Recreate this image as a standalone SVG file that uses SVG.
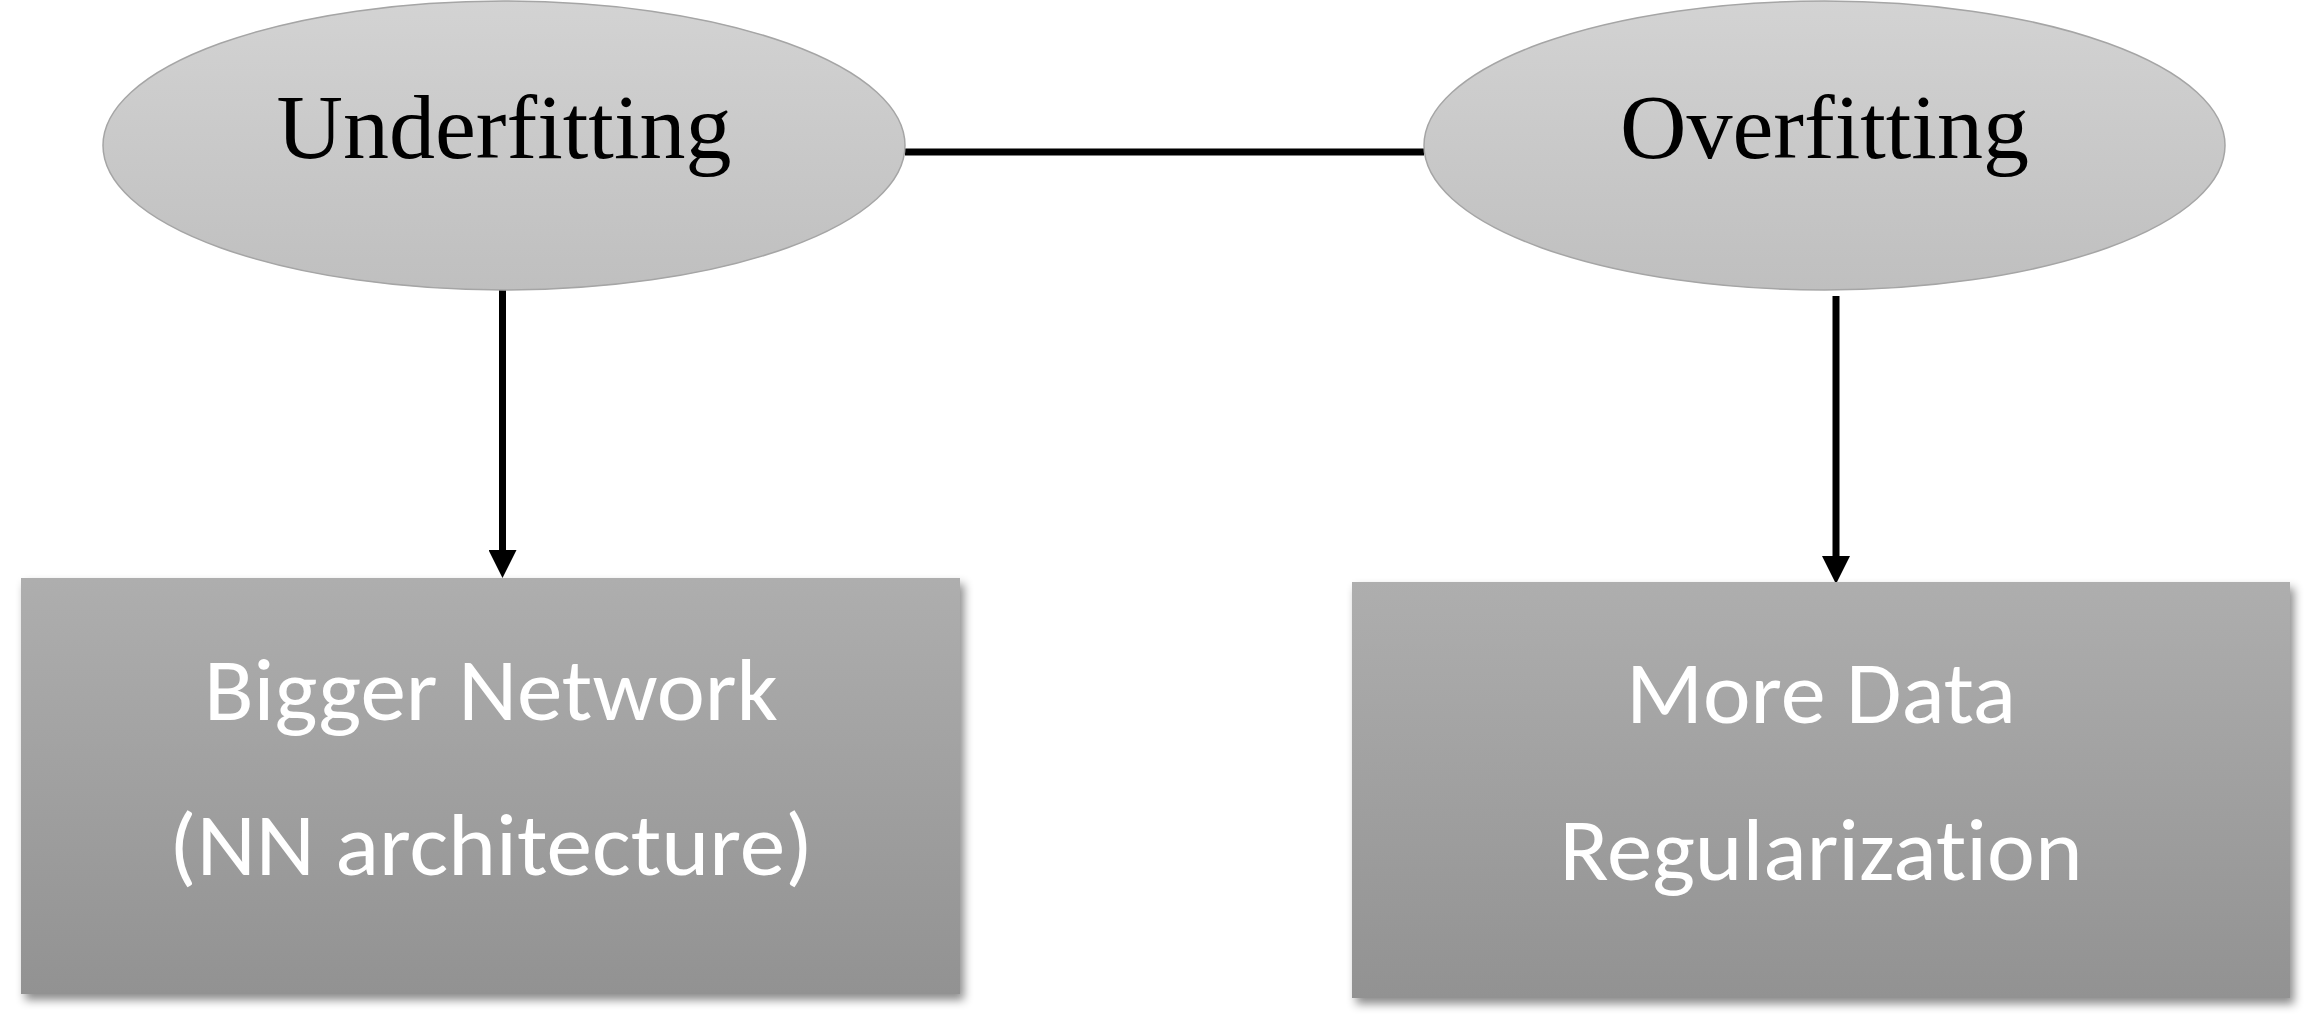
<svg xmlns="http://www.w3.org/2000/svg" width="2311" height="1026" viewBox="0 0 2311 1026">
  <defs>
    <linearGradient id="ellGrad" x1="0" y1="0" x2="0" y2="1">
      <stop offset="0" stop-color="#d3d3d3"/>
      <stop offset="1" stop-color="#bfbfbf"/>
    </linearGradient>
    <linearGradient id="boxGrad" x1="0" y1="0" x2="0" y2="1">
      <stop offset="0" stop-color="#aeaeae"/>
      <stop offset="1" stop-color="#929292"/>
    </linearGradient>
    <filter id="shadow" x="-5%" y="-5%" width="115%" height="115%">
      <feDropShadow dx="4" dy="6" stdDeviation="5" flood-color="#000" flood-opacity="0.45"/>
    </filter>
    <marker id="arrow" markerUnits="userSpaceOnUse" markerWidth="28" markerHeight="28" refX="0" refY="14" orient="auto">
      <path d="M0,0 L28,14 L0,28 z" fill="#000"/>
    </marker>
  </defs>
  <style>
    .ell { fill: url(#ellGrad); stroke: #a5a5a5; stroke-width: 1.5; }
    .box { fill: url(#boxGrad); filter: url(#shadow); }
    .etxt { font-family: "Liberation Serif", "Times New Roman", serif; font-size: 92px; fill: #000; text-anchor: middle; }
    .btxt { font-family: Carlito, Calibri, Lato, "Open Sans", sans-serif; font-size: 88px; fill: #fff; text-anchor: middle; font-variant-ligatures: none; font-feature-settings: "liga" 0, "clig" 0; }
    .conn { stroke: #000; stroke-width: 7; fill: none; }
  </style>
  <rect width="2311" height="1026" fill="#fff"/>
  <g id="connectors">
    <line class="conn" x1="905" y1="152" x2="1424" y2="152"/>
    <line class="conn" x1="502.5" y1="290" x2="502.5" y2="550" marker-end="url(#arrow)"/>
    <line class="conn" x1="1836" y1="296" x2="1836" y2="556" marker-end="url(#arrow)"/>
  </g>
  <g id="underfitting">
    <ellipse class="ell" cx="504" cy="145.5" rx="401" ry="144.5"/>
    <text class="etxt" x="504" y="158" textLength="455" lengthAdjust="spacingAndGlyphs">Underfitting</text>
  </g>
  <g id="overfitting">
    <ellipse class="ell" cx="1824.5" cy="145.5" rx="400.5" ry="144.5"/>
    <text class="etxt" x="1824.5" y="158" textLength="409" lengthAdjust="spacingAndGlyphs">Overfitting</text>
  </g>
  <g id="bigger-network">
    <rect class="box" x="21" y="578" width="939" height="416"/>
    <text class="btxt" x="491" y="720" textLength="574" lengthAdjust="spacingAndGlyphs">Bigger Network</text>
    <text class="btxt" x="491" y="875" textLength="644" lengthAdjust="spacingAndGlyphs">(NN architecture)</text>
  </g>
  <g id="more-data">
    <rect class="box" x="1352" y="582" width="938" height="416"/>
    <text class="btxt" x="1821" y="723" textLength="390" lengthAdjust="spacingAndGlyphs">More Data</text>
    <text class="btxt" x="1821" y="880" textLength="523" lengthAdjust="spacingAndGlyphs">Regularization</text>
  </g>
</svg>
